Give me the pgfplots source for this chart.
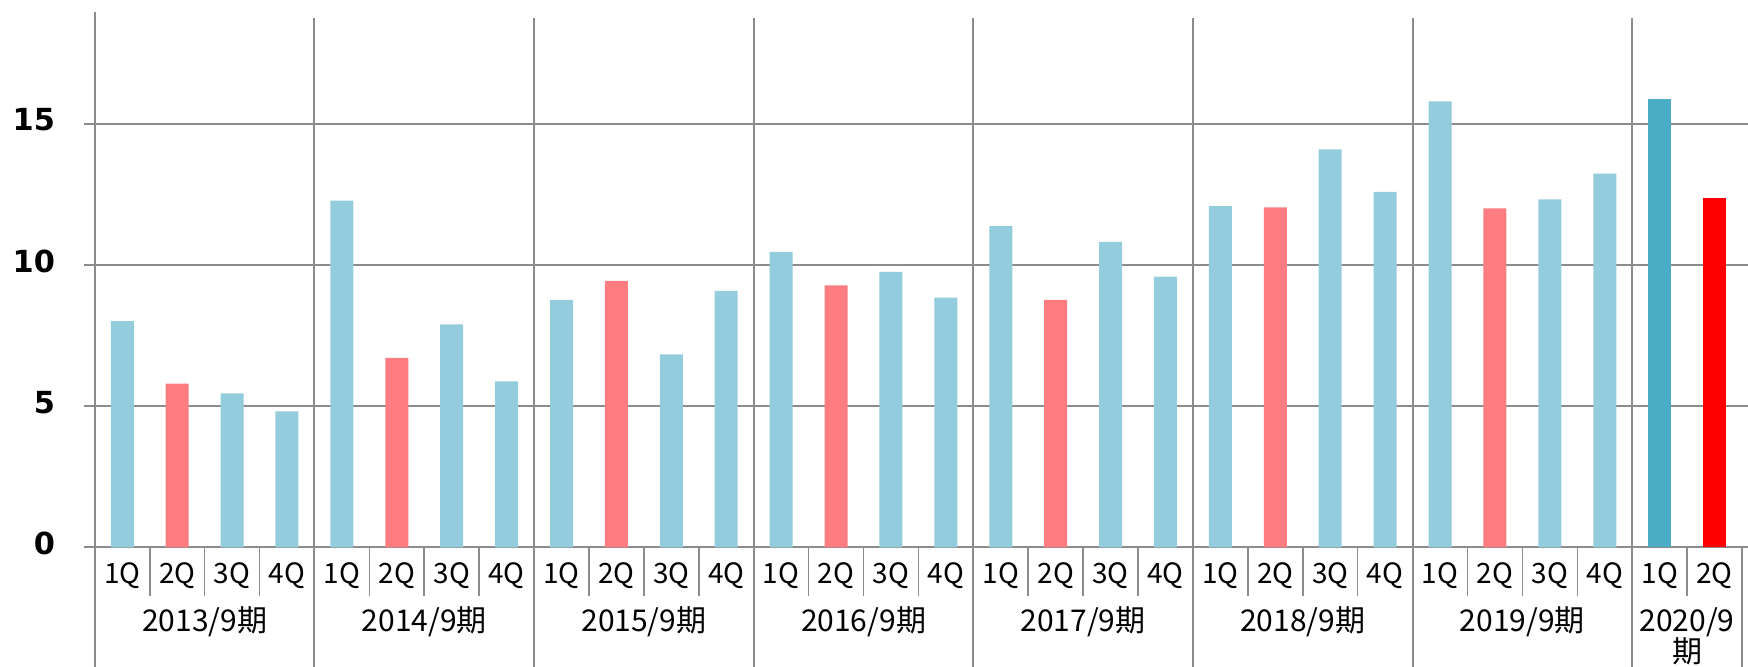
\documentclass[border=0pt]{standalone}
\usepackage{pgfplots}
\pgfplotsset{compat=1.18}
\usepackage{fontspec}
\newfontfamily\cjk{Noto Sans CJK JP}
\newfontfamily\tickfont{DejaVu Sans}
\definecolor{lb}{HTML}{93CDDD}
\definecolor{pk}{HTML}{FF7C80}
\definecolor{db}{HTML}{4BACC6}
\definecolor{rd}{HTML}{FF0000}
\definecolor{gr}{HTML}{8C8C8C}
\begin{document}
\begin{tikzpicture}
\path[use as bounding box] (-47.4pt,-59.8pt) rectangle ++(874pt,333.5pt);
\begin{axis}[
  at={(0,0)}, anchor=south west,
  scale only axis, width=823.6pt, height=264.8pt,
  xmin=-0.5, xmax=29.5, ymin=0, ymax=18.75,
  axis line style={draw=none},
  ytick={0,5,10,15},
  ymajorgrids, major grid style={gr, line width=1pt},
  tick align=outside,
  major tick length=5.4pt,
  ytick style={gr, line width=1pt},
  /pgf/number format/assume math mode=true,
  yticklabel style={font=\tickfont\bfseries\fontsize{15.2}{17}\selectfont, anchor=east, xshift=-11pt, yshift=2pt},
  xtick={0,...,29},
  xticklabels={1Q,2Q,3Q,4Q,1Q,2Q,3Q,4Q,1Q,2Q,3Q,4Q,1Q,2Q,3Q,4Q,1Q,2Q,3Q,4Q,1Q,2Q,3Q,4Q,1Q,2Q,3Q,4Q,1Q,2Q},
  xtick style={draw=none},
  xticklabel style={font=\cjk\fontsize{14}{16}\selectfont, anchor=base, yshift=-12.6pt},
  ybar, bar width=11.5pt, bar shift=0pt,
  clip=false,
]
\addplot[fill=lb, draw=none] coordinates {(0,8.01)(2,5.45)(3,4.82)(4,12.28)(6,7.90)(7,5.88)(8,8.76)(10,6.83)(11,9.08)(12,10.46)(14,9.75)(15,8.84)(16,11.37)(18,10.82)(19,9.59)(20,12.08)(22,14.09)(23,12.59)(24,15.79)(26,12.32)(27,13.23)};
\addplot[fill=pk, draw=none] coordinates {(1,5.80)(5,6.71)(9,9.44)(13,9.28)(17,8.76)(21,12.04)(25,12.00)};
\addplot[fill=db, draw=none] coordinates {(28,15.87)};
\addplot[fill=rd, draw=none] coordinates {(29,12.36)};
\pgfplotsinvokeforeach{3.5,7.5,11.5,15.5,19.5,23.5,27.5}{
  \draw[gr, line width=1pt] (axis cs:#1,18.75) -- (axis cs:#1,0) -- ++(0pt,-60pt);
}
\draw[gr, line width=1pt] (axis cs:-0.5,18.75) ++(0pt,3pt) -- (axis cs:-0.5,0) -- ++(0pt,-60pt);
\draw[gr, line width=1pt] (axis cs:29.5,0) -- ++(0pt,-60pt);
\pgfplotsinvokeforeach{0.5,1.5,2.5,4.5,5.5,6.5,8.5,9.5,10.5,12.5,13.5,14.5,16.5,17.5,18.5,20.5,21.5,22.5,24.5,25.5,26.5,28.5}{
  \draw[gr, line width=0.8pt] (axis cs:#1,0) -- ++(0pt,-24.4pt);
}
\node[font=\cjk\fontsize{15}{17}\selectfont, anchor=base, inner sep=0pt] at (axis cs:1.5,0) [yshift=-42.2pt] {2013/9期};
\node[font=\cjk\fontsize{15}{17}\selectfont, anchor=base, inner sep=0pt] at (axis cs:5.5,0) [yshift=-42.2pt] {2014/9期};
\node[font=\cjk\fontsize{15}{17}\selectfont, anchor=base, inner sep=0pt] at (axis cs:9.5,0) [yshift=-42.2pt] {2015/9期};
\node[font=\cjk\fontsize{15}{17}\selectfont, anchor=base, inner sep=0pt] at (axis cs:13.5,0) [yshift=-42.2pt] {2016/9期};
\node[font=\cjk\fontsize{15}{17}\selectfont, anchor=base, inner sep=0pt] at (axis cs:17.5,0) [yshift=-42.2pt] {2017/9期};
\node[font=\cjk\fontsize{15}{17}\selectfont, anchor=base, inner sep=0pt] at (axis cs:21.5,0) [yshift=-42.2pt] {2018/9期};
\node[font=\cjk\fontsize{15}{17}\selectfont, anchor=base, inner sep=0pt] at (axis cs:25.5,0) [yshift=-42.2pt] {2019/9期};
\node[font=\cjk\fontsize{15}{17}\selectfont, anchor=base, inner sep=0pt] at (axis cs:28.5,0) [yshift=-42.2pt] {2020/9};
\node[font=\cjk\fontsize{15}{17}\selectfont, anchor=base, inner sep=0pt] at (axis cs:28.5,0) [yshift=-57.6pt] {期};
\end{axis}
\end{tikzpicture}
\end{document}
